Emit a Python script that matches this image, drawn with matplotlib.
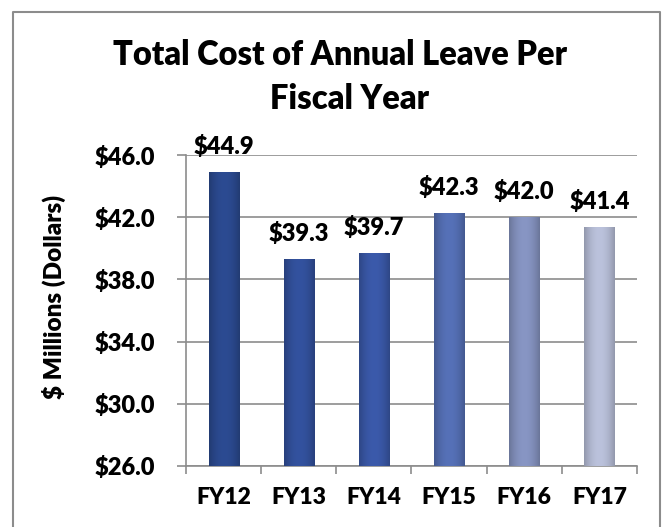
import numpy as np
import matplotlib
matplotlib.use("Agg")
import matplotlib.pyplot as plt
from matplotlib.colors import to_rgb
from matplotlib.lines import Line2D

years = ["FY12", "FY13", "FY14", "FY15", "FY16", "FY17"]
cost = [44.9, 39.3, 39.7, 42.3, 42.0, 41.4]
bar_colors = ["#2c4b92", "#33529f", "#3b5aab", "#5671b8", "#8896c4", "#bbc2dc"]
yticks = [26.0, 30.0, 34.0, 38.0, 42.0, 46.0]

plt.rcParams['font.family'] = ['Lato', 'DejaVu Sans']
plt.rcParams['font.weight'] = 'heavy'

W, H = 663, 527
fig = plt.figure(figsize=(W / 100, H / 100), dpi=100)
ax = fig.add_axes([186 / W, (H - 466) / H, (637 - 186) / W, (466 - 155) / H])

x = np.arange(len(years))
bars = ax.bar(x, cost, width=0.4, color=bar_colors, zorder=3, edgecolor="none")

# shade each bar: darker at the sides, lighter in the middle
for b, c in zip(bars, bar_colors):
    rgb = np.array(to_rgb(c))
    t = np.linspace(-1, 1, 64)
    shade = 0.78 + 0.22 * (1 - t ** 2)
    img = np.clip(rgb[None, None, :] * shade[None, :, None], 0, 1)
    im = ax.imshow(img, extent=(b.get_x(), b.get_x() + b.get_width(),
                                26.0, b.get_height()),
                   aspect="auto", zorder=3.5, interpolation="bilinear")
    im.set_clip_path(b)

for b, v in zip(bars, cost):
    ax.annotate(f"${v:.1f}", (b.get_x() + b.get_width() / 2, v),
                xytext=(0, 10), textcoords="offset points",
                ha="center", va="bottom", fontsize=17,
                annotation_clip=False, zorder=5)

ax.set_xlim(-0.5, len(years) - 0.5)
ax.set_ylim(26, 46)
ax.set_yticks(yticks)
ax.set_yticklabels([f"${t:.1f}" for t in yticks])
ax.set_xticks(x)
ax.set_xticklabels(years)
ax.set_xticks(np.arange(len(years) + 1) - 0.5, minor=True)
ax.tick_params(axis="x", which="major", length=0, pad=15, labelsize=16.5)
ax.tick_params(axis="x", which="minor", length=6, color="#8c8c8c", width=1.2)
ax.tick_params(axis="y", length=6.5, pad=16, color="#8c8c8c", width=1.2,
               labelsize=17)
ax.yaxis.grid(True, color="#8c8c8c", linewidth=1.2, zorder=0)
ax.set_axisbelow(True)
for side in ["top", "right"]:
    ax.spines[side].set_visible(False)
for side in ["left", "bottom"]:
    ax.spines[side].set_color("#8c8c8c")
    ax.spines[side].set_linewidth(1.2)

fig.text(340 / W, 1 - 55 / H, "Total Cost of Annual Leave Per",
         ha="center", va="center", fontsize=23.5)
fig.text(350 / W, 1 - 99 / H, "Fiscal Year",
         ha="center", va="center", fontsize=23.5)
fig.text(54 / W, 1 - 297 / H, "$ Millions (Dollars)", rotation=90,
         ha="center", va="center", fontsize=17.5)

# outer chart frame
fx = [13 / W, 13 / W, 660 / W, 660 / W]
fy = [0, 1 - 12 / H, 1 - 12 / H, 0]
fig.add_artist(Line2D(fx, fy, transform=fig.transFigure, color="#8c8c8c",
                      linewidth=1.5))

fig.savefig("out.png", dpi=100)
